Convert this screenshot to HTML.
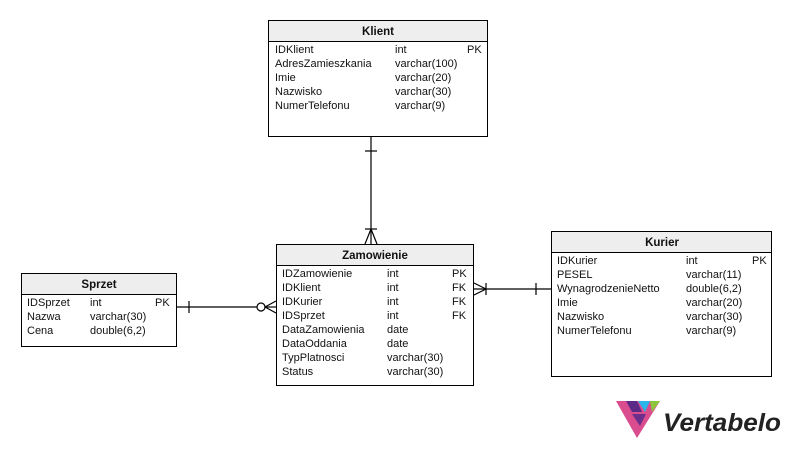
<!DOCTYPE html>
<html><head><meta charset="utf-8"><style>
html,body{margin:0;padding:0;background:#fff}
svg{display:block}
text{font-family:"Liberation Sans",Arial,sans-serif;font-size:11px;fill:#111}
.h{font-weight:bold;font-size:11.5px}
</style></head><body>
<svg width="791" height="449" viewBox="0 0 791 449" xmlns="http://www.w3.org/2000/svg">
<g stroke="#000" stroke-width="1.2" fill="none">
<line x1="371" y1="136" x2="371" y2="244"/>
<line x1="365" y1="151" x2="377" y2="151"/>
<line x1="365" y1="229" x2="377" y2="229"/>
<line x1="371" y1="229" x2="365" y2="244"/>
<line x1="371" y1="229" x2="377" y2="244"/>
<line x1="177" y1="307" x2="257" y2="307"/>
<line x1="189" y1="301" x2="189" y2="313"/>
<circle cx="261" cy="307" r="4" fill="#fff"/>
<line x1="265" y1="307" x2="276" y2="307"/>
<line x1="265" y1="307" x2="276" y2="301"/>
<line x1="265" y1="307" x2="276" y2="313"/>
<line x1="474" y1="289" x2="551" y2="289"/>
<line x1="486" y1="283" x2="486" y2="295"/>
<line x1="536" y1="283" x2="536" y2="295"/>
<line x1="486" y1="289" x2="474" y2="283"/>
<line x1="486" y1="289" x2="474" y2="295"/>
</g>
<rect x="268.5" y="20.5" width="219" height="116" fill="#fff" stroke="#000"/>
<rect x="269" y="21" width="218" height="20" fill="#eee"/>
<line x1="268" y1="41.5" x2="488" y2="41.5" stroke="#000"/>
<text class="h" x="378" y="35" text-anchor="middle">Klient</text>
<text x="275" y="53">IDKlient</text><text x="395" y="53">int</text><text x="467" y="53">PK</text>
<text x="275" y="67">AdresZamieszkania</text><text x="395" y="67">varchar(100)</text>
<text x="275" y="81">Imie</text><text x="395" y="81">varchar(20)</text>
<text x="275" y="95">Nazwisko</text><text x="395" y="95">varchar(30)</text>
<text x="275" y="109">NumerTelefonu</text><text x="395" y="109">varchar(9)</text>
<rect x="276.5" y="244.5" width="197" height="141" fill="#fff" stroke="#000"/>
<rect x="277" y="245" width="196" height="20" fill="#eee"/>
<line x1="276" y1="265.5" x2="474" y2="265.5" stroke="#000"/>
<text class="h" x="375" y="259" text-anchor="middle">Zamowienie</text>
<text x="282" y="277">IDZamowienie</text><text x="387" y="277">int</text><text x="452" y="277">PK</text>
<text x="282" y="291">IDKlient</text><text x="387" y="291">int</text><text x="452" y="291">FK</text>
<text x="282" y="305">IDKurier</text><text x="387" y="305">int</text><text x="452" y="305">FK</text>
<text x="282" y="319">IDSprzet</text><text x="387" y="319">int</text><text x="452" y="319">FK</text>
<text x="282" y="333">DataZamowienia</text><text x="387" y="333">date</text>
<text x="282" y="347">DataOddania</text><text x="387" y="347">date</text>
<text x="282" y="361">TypPlatnosci</text><text x="387" y="361">varchar(30)</text>
<text x="282" y="375">Status</text><text x="387" y="375">varchar(30)</text>
<rect x="551.5" y="231.5" width="220" height="145" fill="#fff" stroke="#000"/>
<rect x="552" y="232" width="219" height="20" fill="#eee"/>
<line x1="551" y1="252.5" x2="772" y2="252.5" stroke="#000"/>
<text class="h" x="662" y="246" text-anchor="middle">Kurier</text>
<text x="557" y="264">IDKurier</text><text x="686" y="264">int</text><text x="752" y="264">PK</text>
<text x="557" y="278">PESEL</text><text x="686" y="278">varchar(11)</text>
<text x="557" y="292">WynagrodzenieNetto</text><text x="686" y="292">double(6,2)</text>
<text x="557" y="306">Imie</text><text x="686" y="306">varchar(20)</text>
<text x="557" y="320">Nazwisko</text><text x="686" y="320">varchar(30)</text>
<text x="557" y="334">NumerTelefonu</text><text x="686" y="334">varchar(9)</text>
<rect x="21.5" y="273.5" width="155" height="73" fill="#fff" stroke="#000"/>
<rect x="22" y="274" width="154" height="20" fill="#eee"/>
<line x1="21" y1="294.5" x2="177" y2="294.5" stroke="#000"/>
<text class="h" x="99" y="288" text-anchor="middle">Sprzet</text>
<text x="27" y="306">IDSprzet</text><text x="90" y="306">int</text><text x="155" y="306">PK</text>
<text x="27" y="320">Nazwa</text><text x="90" y="320">varchar(30)</text>
<text x="27" y="334">Cena</text><text x="90" y="334">double(6,2)</text>
<polygon points="616,401 660,401 637,438" fill="#d94c8e"/>
<polygon points="626,401 637,401 642,412 632,412" fill="#5b2a86"/>
<polygon points="638,401 650,401 645,412" fill="#2bb5e8"/>
<polygon points="650,401 660,401 652,412" fill="#8cc63f"/>
<polygon points="632,414 646,414 640,426" fill="#6b2e8c"/>
<text x="663" y="431" textLength="118" lengthAdjust="spacingAndGlyphs" style="font-size:25px;font-style:italic;font-weight:bold;fill:#222">Vertabelo</text>
</svg>
</body></html>
